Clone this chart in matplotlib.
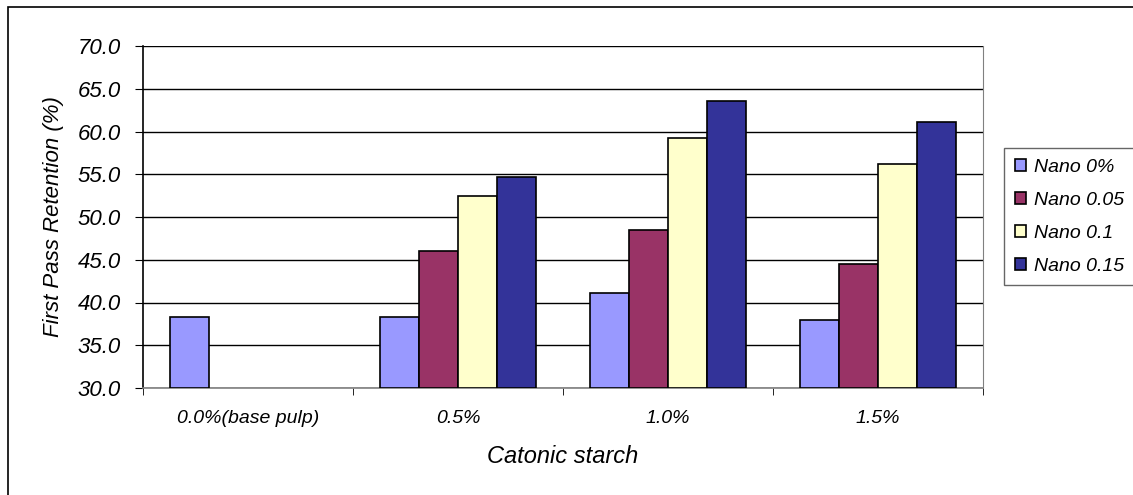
import matplotlib.pyplot as plt
import numpy as np
from matplotlib.patches import Rectangle

categories = ["0.0%(base pulp)", "0.5%", "1.0%", "1.5%"]
series_names = ["Nano 0%", "Nano 0.05", "Nano 0.1", "Nano 0.15"]
nano_0 = [38.3, 38.3, 41.1, 37.9]
nano_005 = [np.nan, 46.0, 48.5, 44.5]
nano_01 = [np.nan, 52.4, 59.2, 56.2]
nano_015 = [np.nan, 54.7, 63.6, 61.1]
colours = ["#9999FF", "#993366", "#FFFFCC", "#333399"]

plt.rcParams['font.family'] = ['Liberation Sans', 'DejaVu Sans']

W, H = 1133, 495
fig = plt.figure(figsize=(W / 100, H / 100), dpi=100)
ax = fig.add_axes([143 / W, 1 - 388 / H, (983 - 143) / W, (388 - 46) / H])

# cadre extérieur du graphique
fig.patches.append(Rectangle((8 / W, -0.01), 1.1, 1 - 7 / H + 0.01, transform=fig.transFigure,
                             fill=False, edgecolor="black", linewidth=1.2))

x = np.arange(len(categories))
w = 0.186
series = [nano_0, nano_005, nano_01, nano_015]
for i, (vals, nom, c) in enumerate(zip(series, series_names, colours)):
    ax.bar(x + (i - 1.5) * w, np.array(vals) - 30, w, bottom=30, color=c,
           edgecolor="black", linewidth=1.2, label=nom, zorder=3)

ax.set_xlim(-0.5, len(categories) - 0.5)
ax.set_ylim(30, 70)
ax.set_yticks(np.arange(30, 70.1, 5))
ax.set_yticklabels([f"{v:.1f}" for v in np.arange(30, 70.1, 5)], fontsize=16, style="italic")
ax.yaxis.grid(True, color="black", linewidth=1, zorder=0)

ax.set_xticks(x)
ax.set_xticklabels(categories, fontsize=14, style="italic")
ax.set_xticks(np.arange(-0.5, len(categories)), minor=True)
ax.tick_params(axis="x", which="major", length=0, pad=16)
ax.tick_params(axis="x", which="minor", length=5, direction="out")
ax.tick_params(axis="y", length=6, direction="out", pad=10)

ax.spines["top"].set_visible(False)
ax.spines["right"].set_color("#808080")
ax.spines["left"].set_linewidth(1.2)
ax.spines["bottom"].set_color("#808080")
ax.spines["bottom"].set_linewidth(1.2)

ax.set_ylabel("First Pass Retention (%)", fontsize=16, style="italic", labelpad=10)
ax.set_xlabel("Catonic starch", fontsize=17, style="italic", labelpad=13)

leg = fig.legend(loc="upper left", bbox_to_anchor=(1004 / W, 1 - 148 / H),
                 prop={"style": "italic", "size": 14}, frameon=True, fancybox=False,
                 edgecolor="#404040", handlelength=0.6, handleheight=0.6, handletextpad=0.4,
                 borderpad=0.55, labelspacing=0.82, borderaxespad=0)
leg.get_frame().set_linewidth(1)

fig.savefig("out.png", dpi=100)
